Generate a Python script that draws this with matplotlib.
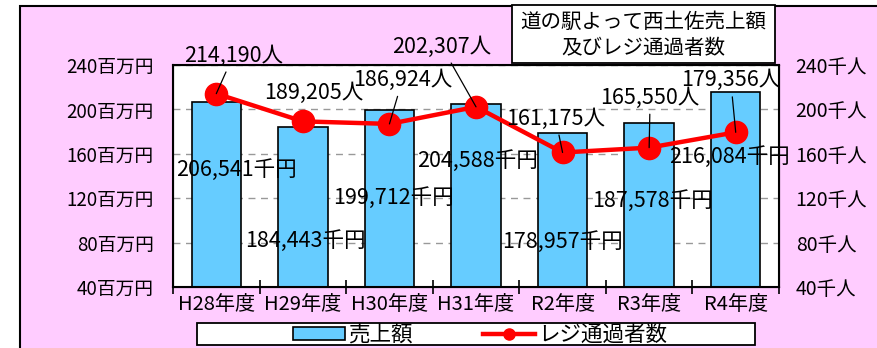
import matplotlib.pyplot as plt
from matplotlib.lines import Line2D
from matplotlib.patches import Rectangle
import numpy as np

plt.rcParams["font.family"] = ["Noto Sans CJK JP", "DejaVu Sans"]

PINK = "#FFCCFF"
BAR_COLOR = "#66CCFF"
LINE_COLOR = "#FF0000"

years = ["H28年度", "H29年度", "H30年度", "H31年度", "R2年度", "R3年度", "R4年度"]
sales_k_yen = [206541, 184443, 199712, 204588, 178957, 187578, 216084]   # 千円
visitors = [214190, 189205, 186924, 202307, 161175, 165550, 179356]      # 人

left_ticks = [40, 80, 120, 160, 200, 240]
left_tick_labels = ["40百万円", "80百万円", "120百万円", "160百万円", "200百万円", "240百万円"]
right_tick_labels = ["40千人", "80千人", "120千人", "160千人", "200千人", "240千人"]

# label placement, in pixels from the mark (dx, dy)
visitor_label_offsets = [(17, 38), (11, 28), (13, 44), (-34, 60), (-7, 34), (1, 50), (-5, 52)]
visitor_leader = [True, False, True, True, True, True, True]
sales_label_offsets = [(20, -68), (3, -114), (4, -88), (1, -57), (0, -109), (3, -78), (-6, -65)]

W, H = 877, 348
fig = plt.figure(figsize=(W / 100, H / 100), dpi=100, facecolor="white")

# chart area background with border
fig.patches.append(Rectangle((20 / W, -0.1), 1.2, 1.1 - 6 / H, transform=fig.transFigure,
                             facecolor=PINK, edgecolor="black", linewidth=1.5, zorder=-5))

ax = fig.add_axes([173 / W, 1 - 287 / H, (779 - 173) / W, (287 - 65) / H])
ax.set_facecolor("white")

x = np.arange(len(years))
sales_m = np.array(sales_k_yen) / 1000
visitors_k = np.array(visitors) / 1000

ax.bar(x, sales_m, width=0.57, color=BAR_COLOR, edgecolor="black", linewidth=1.2, zorder=2)
ax.set_xlim(-0.5, len(years) - 0.5)
ax.set_ylim(40, 240)
ax.set_yticks(left_ticks)
ax.set_yticklabels(left_tick_labels, fontsize=13.5)
ax.tick_params(axis="y", length=0, pad=14)
ax.grid(axis="y", linestyle=(0, (5, 4)), color="#999999", linewidth=1.0, zorder=1)

ax.set_xticks(np.arange(len(years) + 1) - 0.5)
ax.set_xticklabels([])
ax.set_xticks(x, minor=True)
ax.set_xticklabels(years, minor=True, fontsize=14.5)
ax.tick_params(axis="x", which="major", direction="inout", length=10, width=1.2)
ax.tick_params(axis="x", which="minor", length=0, pad=5)
for s in ax.spines.values():
    s.set_linewidth(1.5)
    s.set_color("black")

ax2 = ax.twinx()
ax2.set_ylim(40, 240)
ax2.set_yticks(left_ticks)
ax2.set_yticklabels(right_tick_labels, fontsize=14)
ax2.tick_params(axis="y", length=0, pad=12)
ax2.plot(x, visitors_k, color=LINE_COLOR, linewidth=3.2, marker="o", markersize=16,
         markerfacecolor=LINE_COLOR, markeredgecolor=LINE_COLOR, zorder=3)

for i in range(len(years)):
    ax.annotate(f"{sales_k_yen[i]:,}千円", xy=(x[i], sales_m[i]), xytext=sales_label_offsets[i],
                textcoords="offset pixels", ha="center", va="center", fontsize=15.5, zorder=4)

    arrow = dict(arrowstyle="-", color="black", linewidth=0.9, shrinkA=2, shrinkB=0) if visitor_leader[i] else None
    ax2.annotate(f"{visitors[i]:,}人", xy=(x[i], visitors_k[i]), xytext=visitor_label_offsets[i],
                 textcoords="offset pixels", ha="center", va="center", fontsize=15.5,
                 arrowprops=arrow, zorder=5)

# title box
fig.patches.append(Rectangle((512 / W, 1 - 63 / H), (775 - 512) / W, 58 / H, transform=fig.transFigure,
                             facecolor="white", edgecolor="black", linewidth=1.3, zorder=5))
fig.text(643 / W, 1 - 35 / H, "道の駅よって西土佐売上額\n及びレジ通過者数", ha="center", va="center",
         fontsize=14.8, linespacing=1.2, zorder=6)

# legend
fig.patches.append(Rectangle((197 / W, 1 - 345 / H), (755 - 197) / W, 22 / H, transform=fig.transFigure,
                             facecolor="white", edgecolor="black", linewidth=1.3, zorder=5))
handles = [
    Rectangle((0, 0), 1, 1, facecolor=BAR_COLOR, edgecolor="black", linewidth=1.2),
    Line2D([], [], color=LINE_COLOR, linewidth=3.2, marker="o", markersize=8),
]
leg = fig.legend(handles, ["売上額", "レジ通過者数"], loc="center", ncol=2,
                 bbox_to_anchor=(480 / W, 1 - 335 / H), frameon=False, fontsize=15.5,
                 handlelength=2.4, handleheight=0.55, handletextpad=0.15, columnspacing=3.3,
                 borderpad=0)
leg.set_zorder(6)

fig.savefig("out.png", dpi=100, facecolor="white")
